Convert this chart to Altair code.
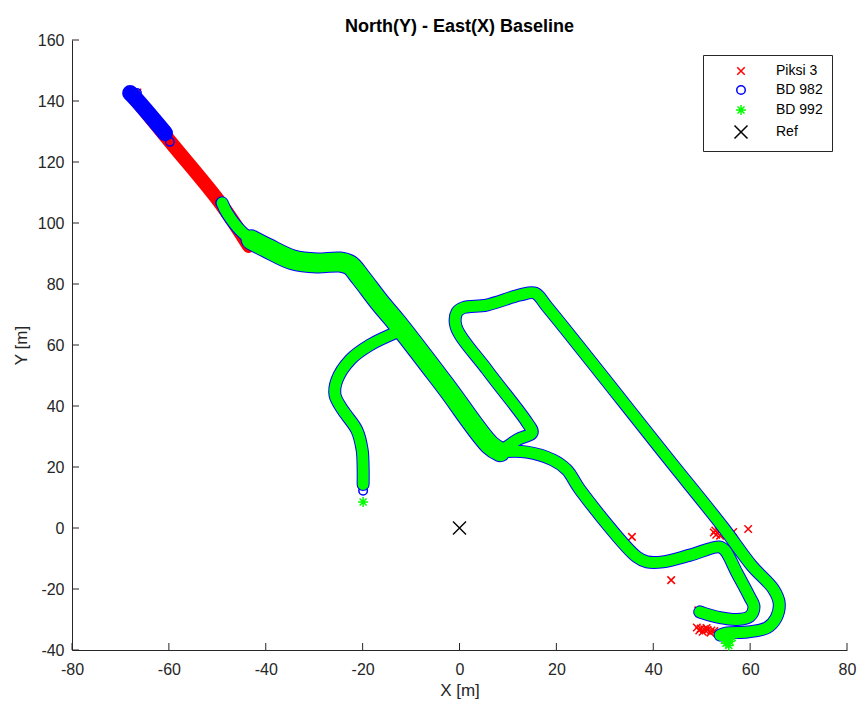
import altair as alt
import pandas as pd

# ---------------- data ----------------
# Piksi 3 initial run (red)
piksi_run_x = [-67.5, -59.8, -49.4, -43.5]
piksi_run_y = [141.8, 126.8, 106.6, 92.5]

# BD 982 initial run (blue)
bd982_run_x = [-68.0, -66.6, -60.8]
bd982_run_y = [142.6, 140.3, 129.5]

# BD 992 / BD 982 common track pieces
entry_x = [-49.0, -48.0, -44.7, -41.5]
entry_y = [106.6, 103.3, 96.7, 93.2]

band_x = [-43.0, -39.7, -34.4, -29.4, -24.7, -22.6, -20.5, -16.4, -12.9, -3.0, 6.3, 8.4]
band_y = [94.5, 91.8, 87.9, 86.9, 87.2, 86.2, 82.3, 73.8, 67.2, 46.8, 27.2, 25.0]

hook_x = [-12.5, -18.5, -22.6, -25.3, -25.7, -24.1, -21.2, -20.1, -19.9, -19.9]
hook_y = [64.5, 60.0, 55.1, 48.5, 43.6, 38.7, 32.1, 25.6, 20.0, 14.3]

loop_x = [8.4, 12.0, 15.0, 14.0, 5.7, -0.7, -0.5, 0.9, 5.6, 12.5, 15.6, 18.1,
          42.8, 54.4, 60.3, 64.8, 66.0, 65.4, 63.5, 59.4, 55.2, 53.8]
loop_y = [25.0, 29.0, 31.3, 34.5, 51.8, 66.0, 70.8, 72.3, 73.1, 76.4, 77.0, 72.5,
          23.3, 0.3, -12.3, -20.0, -24.6, -29.4, -32.7, -34.1, -34.4, -35.1]

lower_x = [8.4, 13.9, 19.3, 22.2, 24.9, 36.6, 38.7, 42.0, 47.6, 53.6, 54.8,
           57.3, 59.9, 60.8, 59.9, 57.3, 53.8, 50.3, 49.6]
lower_y = [25.0, 24.9, 22.3, 19.0, 12.5, -9.5, -11.1, -11.1, -8.9, -6.2, -7.3,
           -14.8, -22.6, -25.9, -29.0, -30.0, -29.4, -27.9, -27.5]

# isolated markers
piksi_pts_x = [-66.5, 35.6, 43.7, 59.6, 56.5, 52.5, 53.0, 53.5, 53.8, 52.8, 54.2,
               49.3, 49.0, 49.8, 50.5, 51.2, 52.0, 52.6, 50.2, 51.0, 49.5, 51.8]
piksi_pts_y = [142.8, -2.9, -17.1, -0.3, -1.3, -1.5, -2.2, -1.0, -2.5, -0.8, -1.8,
               -27.0, -32.6, -33.0, -33.2, -33.4, -33.6, -33.8, -34.0, -32.8, -33.6, -34.3]

bd982_pts_x = [-67.8, -66.6, -59.8, -49.4, -19.9, 49.6]
bd982_pts_y = [142.4, 142.6, 126.6, 106.6, 12.2, -27.5]

bd992_pts_x = [-19.9, 54.5, 55.2, 55.8, 55.0, 56.3, 54.7, 55.6, 56.0]
bd992_pts_y = [8.5, -35.5, -36.3, -37.2, -37.8, -36.0, -36.8, -38.5, -35.2]

ref_x = [0.0]
ref_y = [0.0]

series_names = ["Piksi 3", "BD 982", "BD 992", "Ref"]
series_colors = ["#ff0000", "#0000ff", "#00ff00", "#000000"]
series_shapes = [
    "M-0.75,-0.75L0.75,0.75M0.75,-0.75L-0.75,0.75",
    "M0.85,0A0.85,0.85,0,1,1,-0.85,0A0.85,0.85,0,1,1,0.85,0Z",
    "M-1,0L1,0M0,-1L0,1M-0.7,-0.7L0.7,0.7M-0.7,0.7L0.7,-0.7",
    "M-1.3,-1.3L1.3,1.3M1.3,-1.3L-1.3,1.3",
]

x_ticks = [-80, -60, -40, -20, 0, 20, 40, 60, 80]
y_ticks = [-40, -20, 0, 20, 40, 60, 80, 100, 120, 140, 160]

# ---------------- tables ----------------
def track(name, xs, ys):
    return pd.DataFrame({"x": xs, "y": ys, "route": name, "k": list(range(len(xs)))})

red_run = track("piksi_run", piksi_run_x, piksi_run_y)
blue_run = track("bd982_run", bd982_run_x, bd982_run_y)
narrow = pd.concat([track("entry", entry_x, entry_y), track("hook", hook_x, hook_y),
                    track("loop", loop_x, loop_y), track("lower", lower_x, lower_y)])
wide = track("band", band_x, band_y)

def pts(name, xs, ys):
    return pd.DataFrame({"x": xs, "y": ys, "series": name})

FONT = "Liberation Sans"
AX = "#262626"

xs = alt.Scale(domain=[-80, 80], nice=False, zero=False)
ys = alt.Scale(domain=[-40, 160], nice=False, zero=False)
xaxis = alt.Axis(values=x_ticks, title="X [m]", ticks=False, grid=False, labelFlush=False,
                 labelOverlap=False, labelPadding=11, titlePadding=5,
                 labelExpr="'' + datum.value")
yaxis = alt.Axis(values=y_ticks, title="Y [m]", ticks=False, grid=False, labelFlush=False,
                 labelOverlap=False, labelPadding=8, titlePadding=7,
                 labelExpr="'' + datum.value")

def X(f="x"):
    return alt.X(f"{f}:Q", scale=xs, axis=xaxis)

def Y(f="y"):
    return alt.Y(f"{f}:Q", scale=ys, axis=yaxis)

def lines(df, color, width):
    return alt.Chart(df).mark_line(color=color, strokeWidth=width, strokeCap="round",
                                   strokeJoin="round", interpolate="catmull-rom").encode(
        x=X(), y=Y(), detail="route:N", order="k:Q")

legend = alt.Legend(title=None, orient="none", legendX=631, legendY=15,
                    padding=9, strokeColor=AX, fillColor="white",
                    symbolOffset=22, labelOffset=28, labelFontSize=14,
                    labelFont=FONT, labelColor="#000000", rowPadding=4,
                    symbolSize=100, symbolStrokeWidth=1.5)
color_enc = alt.Color("series:N", scale=alt.Scale(domain=series_names, range=series_colors),
                      legend=legend)
shape_enc = alt.Shape("series:N", scale=alt.Scale(domain=series_names, range=series_shapes),
                      legend=legend)

def points(df, sw=1.5):
    return alt.Chart(df).mark_point(filled=False, size=100, strokeWidth=sw, opacity=1).encode(
        x=X(), y=Y(), color=color_enc, shape=shape_enc)

xt = alt.Chart(pd.DataFrame({"t": x_ticks})).mark_rule(color=AX, strokeWidth=1).encode(
    x=X("t"), y=alt.value(610), y2=alt.value(603))
yt = alt.Chart(pd.DataFrame({"t": y_ticks})).mark_rule(color=AX, strokeWidth=1).encode(
    y=Y("t"), x=alt.value(0), x2=alt.value(7))

chart = alt.layer(
    lines(red_run, "#ff0000", 14),
    points(pts("Piksi 3", piksi_pts_x, piksi_pts_y)),
    lines(blue_run, "#0000ff", 16),
    lines(narrow, "#0000ff", 13),
    lines(wide, "#0000ff", 21),
    points(pts("BD 982", bd982_pts_x, bd982_pts_y)),
    lines(narrow, "#00ff00", 11),
    lines(wide, "#00ff00", 19),
    points(pts("BD 992", bd992_pts_x, bd992_pts_y)),
    points(pts("Ref", ref_x, ref_y), sw=1.4),
    xt, yt,
).properties(
    width=775, height=610,
    background="white",
    title=alt.TitleParams("North(Y) - East(X) Baseline", fontSize=18, fontWeight="bold",
                          font=FONT, anchor="middle", offset=-4, color="#000000"),
    autosize=alt.AutoSizeParams(type="none"),
    padding={"left": 72, "top": 40, "right": 10, "bottom": 54},
).configure_view(stroke=None).configure_axis(
    domainColor=AX, domainWidth=1, labelColor=AX, labelFont=FONT, labelFontSize=16,
    titleFont=FONT, titleFontSize=17, titleFontWeight="normal", titleColor=AX,
)

chart.save("out.html", embed_options={"renderer": "svg", "actions": False})
